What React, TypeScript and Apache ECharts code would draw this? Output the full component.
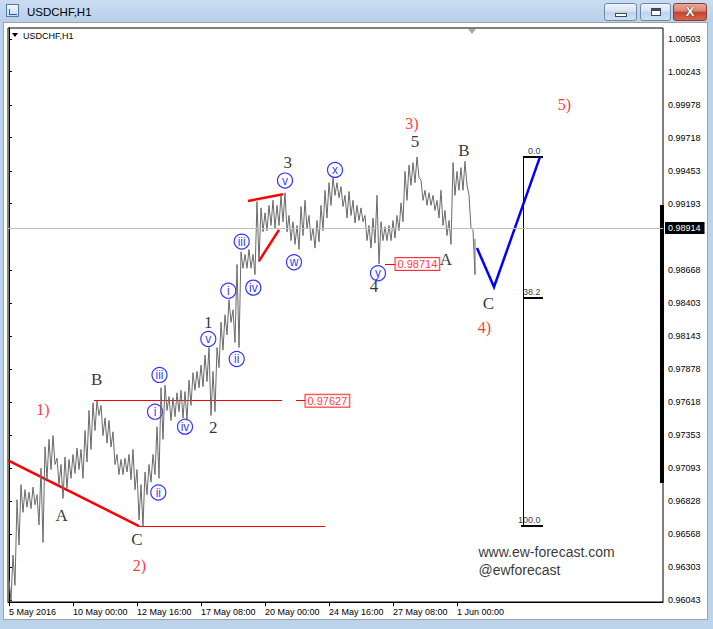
import React, { useEffect, useRef } from "react";
import * as echarts from "echarts";

const SANS = "'Liberation Sans', Arial, sans-serif";
const SERIF = "'Liberation Serif', 'Times New Roman', serif";

const symbolName = "USDCHF,H1";

// Time axis: H1 bar index, bar 0 = 5 May 2016 08:00 (weekend hours are skipped)
const timeTickBars = [0, 64, 128, 192, 256, 320, 384, 448];
const timeTickLabels = [
  "5 May 2016",
  "10 May 00:00",
  "12 May 16:00",
  "17 May 08:00",
  "20 May 00:00",
  "24 May 16:00",
  "27 May 08:00",
  "1 Jun 00:00",
];
const firstBar = -1;
const lastVisibleBar = 654;

// Price scale
const priceMin = 0.96027;
const priceMax = 1.0059;
const priceTicks = [
  1.00503, 1.00243, 0.99978, 0.99718, 0.99453, 0.99193, 0.98668, 0.98403, 0.98143,
  0.97878, 0.97618, 0.97353, 0.97093, 0.96828, 0.96568, 0.96303, 0.96043,
];

// Key levels of the count
const lastClose = 0.98914;
const wave1High = 0.97627;
const wave2Low = 0.96631;
const wave3High = 0.99565;
const wave4Low = 0.98714;

// High / low of each block of four H1 bars (block k starts at bar 4k)
const blockHigh = [
  0.962, 0.964, 0.9684, 0.9696, 0.9692, 0.969, 0.9694, 0.9688, 0.9709, 0.9726,
  0.9732, 0.9735, 0.9717, 0.9712, 0.9718, 0.9716, 0.972, 0.9725, 0.9724, 0.9739,
  0.9755, 0.9761, wave1High, 0.9759, 0.9749, 0.9747, 0.9738, 0.972, 0.9716, 0.9717,
  0.972, 0.9724, 0.9708, 0.9696, 0.9706, 0.9712, 0.972, 0.9742, 0.9773, 0.9775,
  0.9766, 0.9765, 0.9769, 0.9771, 0.977, 0.9779, 0.9785, 0.9786, 0.9791, 0.9799,
  0.9805, 0.9786, 0.9805, 0.9825, 0.9831, 0.9843, 0.9835, 0.9871, 0.9881, 0.9879,
  0.9883, 0.9879, 0.9921, 0.9916, 0.9912, 0.9918, 0.9922, 0.9918, 0.9926, 0.9928,
  0.991, 0.9905, 0.9902, 0.9917, 0.9922, 0.991, 0.99, 0.9906, 0.9918, 0.993,
  0.9936, 0.994, 0.9936, 0.9933, 0.9926, 0.9929, 0.9922, 0.9918, 0.9916, 0.991,
  0.9902, 0.9908, 0.9926, 0.9905, 0.9901, 0.9902, 0.9906, 0.991, 0.992, 0.9945,
  0.995, 0.9952, wave3High, 0.9938, 0.993, 0.9928, 0.9926, 0.9922, 0.993, 0.9914,
  0.9906, 0.9952, 0.9945, 0.9948, 0.9953, 0.9926, 0.9898,
];
const blockLow = [
  0.9604, 0.9616, 0.9648, 0.9674, 0.9678, 0.9677, 0.968, 0.9664, 0.965, 0.97,
  0.9708, 0.9712, 0.9696, 0.9685, 0.9693, 0.9701, 0.9705, 0.9708, 0.9701, 0.9714,
  0.9724, 0.9739, 0.9751, 0.9735, 0.9729, 0.9726, 0.9712, 0.9704, 0.9704, 0.9706,
  0.97, 0.9692, 0.9668, wave2Low, 0.9688, 0.9698, 0.9704, 0.9701, 0.9732, 0.9755,
  0.9747, 0.975, 0.9754, 0.9749, 0.9747, 0.9759, 0.9771, 0.9773, 0.9774, 0.9778,
  0.9751, 0.9754, 0.9789, 0.9803, 0.9815, 0.9825, 0.9809, 0.9805, 0.9868, 0.9868,
  0.9868, 0.9863, 0.9873, 0.9897, 0.9898, 0.9902, 0.99, 0.9902, 0.9905, 0.9897,
  0.989, 0.9887, 0.9883, 0.9894, 0.99, 0.989, 0.9884, 0.9889, 0.9898, 0.9908,
  0.9918, 0.9926, 0.9924, 0.9917, 0.9908, 0.991, 0.9904, 0.9906, 0.9905, 0.989,
  0.9884, 0.9888, wave4Low, 0.989, 0.989, 0.989, 0.9892, 0.9898, 0.9905, 0.9922,
  0.9934, 0.9936, 0.994, 0.9922, 0.9918, 0.9918, 0.9914, 0.9908, 0.9902, 0.9894,
  0.9887, 0.9926, 0.993, 0.993, 0.9934, 0.99, 0.9863,
];
const lastBar = 466;

// Drawn objects, as [bar, price]
const trendLine = [[-1, 0.97152], [130, wave2Low]];
const wedgeUpper = [[239, 0.99215], [274, 0.99268]];
const wedgeLower = [[250, 0.98738], [270, 0.98985]];
const wave2LevelLine = [[130, wave2Low], [316, wave2Low]];
const wave1LevelLine = [[85, wave1High], [273, wave1High]];
const wave1TagStub = [[287, wave1High], [296, wave1High]];
const wave4TagStub = [[376, wave4Low], [386, wave4Low]];
const projection = [[468, 0.98841], [485, 0.98531], [531, wave3High]];
const sideBar = [[653, 0.99183], [653, 0.96973]];

// Fibonacci retracement of wave 3) (wave 2) low -> wave 3) high)
const fibRatios = [0, 38.2, 100];
const fibBar = 514;
const fibEndBar = 533;

// Wave labels: [text, bar, price]
const primaryLabels: [string, number, number][] = [
  ["A", 52.7, 0.96711],
  ["B", 87.7, 0.97792],
  ["C", 128, 0.9652],
  ["1", 199.3, 0.98248],
  ["2", 204.3, 0.97416],
  ["3", 278.7, 0.9952],
  ["4", 365, 0.98535],
  ["5", 406, 0.99686],
  ["A", 437, 0.98746],
  ["B", 455, 0.99615],
  ["C", 479.3, 0.98402],
];
const intermediateLabels: [string, number, number][] = [
  ["1)", 34, 0.97554],
  ["2)", 130.5, 0.96321],
  ["3)", 403, 0.99827],
  ["4)", 475.5, 0.98208],
  ["5)", 555.5, 0.99978],
];
const minuteLabels: [string, number, number][] = [
  ["i", 146, 0.9754],
  ["ii", 149.3, 0.96897],
  ["iii", 150.5, 0.97832],
  ["iv", 176, 0.97421],
  ["v", 199.3, 0.98118],
  ["i", 219.3, 0.98502],
  ["ii", 227.7, 0.97959],
  ["iii", 232.7, 0.98892],
  ["iv", 244.3, 0.98526],
  ["v", 276, 0.99377],
  ["w", 285, 0.98728],
  ["x", 326, 0.99462],
  ["y", 369, 0.9864],
];
const siteLines: [string, number, number][] = [
  ["www.ew-forecast.com", 469, 0.96425],
  ["@ewforecast", 469, 0.96282],
];

const RED = "#ff0000";
const BLUE = "#0000ff";

function buildOption() {
  // Each 4-hour block is drawn as a stroke from its high down to its low.
  const pricePath: number[][] = [];
  blockHigh.forEach((h, k) => {
    pricePath.push([k * 4, h]);
    pricePath.push([k * 4 + 2, blockLow[k]]);
  });
  pricePath.push([lastBar, lastClose]);

  const fibLevels = fibRatios.map((r) => ({
    ratio: r,
    price: wave3High - (r / 100) * (wave3High - wave2Low),
  }));

  const hidden = { color: "rgba(0,0,0,0)" };
  const textSeries = (
    items: [string, number, number][],
    label: Record<string, unknown>
  ) => ({
    type: "scatter",
    silent: true,
    symbolSize: 1,
    itemStyle: hidden,
    data: items.map(([t, x, y]) => ({ name: t, value: [x, y] })),
    label: { show: true, position: "inside", formatter: "{b}", ...label },
  });

  return {
    animation: false,
    backgroundColor: "transparent",
    title: {
      text: symbolName,
      left: 23,
      top: 31,
      padding: 0,
      textStyle: { fontSize: 9, fontWeight: "normal", fontFamily: SANS, color: "#000" },
    },
    grid: {
      left: 8,
      top: 28,
      right: 50,
      bottom: 27,
      show: true,
      borderColor: "#000",
      borderWidth: 1,
    },
    xAxis: {
      type: "value",
      min: firstBar,
      max: lastVisibleBar,
      splitLine: { show: false },
      axisLine: { show: true, lineStyle: { color: "#000", width: 1 } },
      axisTick: { show: true, customValues: timeTickBars, length: 4, lineStyle: { color: "#000" } },
      axisLabel: {
        customValues: timeTickBars,
        formatter: (v: number) => timeTickLabels[timeTickBars.indexOf(v)] ?? "",
        align: "left",
        margin: 5,
        fontSize: 9,
        fontFamily: SANS,
        color: "#000",
      },
    },
    yAxis: {
      type: "value",
      position: "right",
      min: priceMin,
      max: priceMax,
      splitLine: { show: false },
      axisLine: { show: true, lineStyle: { color: "#000", width: 1 } },
      axisTick: { show: true, customValues: priceTicks, length: 3, lineStyle: { color: "#000" } },
      axisLabel: {
        customValues: priceTicks,
        formatter: (v: number) => v.toFixed(5),
        margin: 5,
        fontSize: 9,
        fontFamily: SANS,
        color: "#000",
      },
    },
    series: [
      {
        type: "line",
        name: symbolName,
        data: pricePath,
        showSymbol: false,
        silent: true,
        lineStyle: { color: "#6a6a6a", width: 1 },
        markLine: {
          silent: true,
          symbol: "none",
          data: [{ yAxis: lastClose }],
          lineStyle: { color: "#c0c0c0", type: "solid", width: 1 },
          label: {
            position: "end",
            distance: 2,
            formatter: () => lastClose.toFixed(5),
            backgroundColor: "#000",
            color: "#fff",
            fontSize: 9,
            fontFamily: SANS,
            padding: [2, 4, 1, 3],
          },
        },
      },
      {
        type: "lines",
        coordinateSystem: "cartesian2d",
        silent: true,
        lineStyle: { color: RED, width: 1, opacity: 1 },
        data: [wave2LevelLine, wave1LevelLine, wave1TagStub, wave4TagStub].map((c) => ({ coords: c })),
      },
      {
        type: "lines",
        coordinateSystem: "cartesian2d",
        silent: true,
        lineStyle: { color: RED, width: 2.5, opacity: 1 },
        data: [trendLine, wedgeUpper, wedgeLower].map((c) => ({ coords: c })),
      },
      {
        type: "lines",
        coordinateSystem: "cartesian2d",
        silent: true,
        lineStyle: { color: "#000", width: 1, opacity: 1 },
        data: [{ coords: [[fibBar, wave3High], [fibBar, wave2Low]] }],
      },
      {
        type: "lines",
        coordinateSystem: "cartesian2d",
        silent: true,
        lineStyle: { color: "#000", width: 2, opacity: 1 },
        data: fibLevels.map((l) => ({
          coords: [[l.ratio === 100 ? fibBar - 2 : fibBar, l.price], [fibEndBar + 1, l.price]],
        })),
      },
      {
        type: "lines",
        coordinateSystem: "cartesian2d",
        silent: true,
        lineStyle: { color: "#000", width: 4, opacity: 1 },
        data: [{ coords: sideBar }],
      },
      {
        type: "lines",
        coordinateSystem: "cartesian2d",
        polyline: true,
        silent: true,
        symbol: ["none", "arrow"],
        symbolSize: 10,
        lineStyle: { color: BLUE, width: 2.5, opacity: 1 },
        data: [{ coords: projection }],
      },
      {
        type: "scatter",
        silent: true,
        symbolSize: 1,
        itemStyle: hidden,
        data: [
          { value: [296, wave1High] },
          { value: [386, wave4Low] },
        ],
        label: {
          show: true,
          position: "right",
          distance: 0,
          formatter: (p: { value: number[] }) => p.value[1].toFixed(5),
          color: RED,
          fontSize: 11,
          fontFamily: SANS,
          borderColor: RED,
          borderWidth: 1,
          backgroundColor: "#fff",
          padding: [1, 2, 0, 2],
        },
      },
      {
        type: "scatter",
        silent: true,
        symbolSize: 1,
        itemStyle: hidden,
        data: fibLevels.map((l) => ({ name: l.ratio.toFixed(1), value: [fibEndBar, l.price] })),
        label: {
          show: true,
          position: "insideBottomRight",
          distance: 2,
          formatter: "{b}",
          color: "#000",
          fontSize: 9,
          fontFamily: SANS,
        },
      },
      {
        type: "scatter",
        silent: true,
        symbol: "circle",
        symbolSize: 15,
        itemStyle: { color: "#fff", borderColor: BLUE, borderWidth: 1.2 },
        data: minuteLabels.map(([t, x, y]) => ({ name: t, value: [x, y] })),
        label: {
          show: true,
          position: "inside",
          formatter: "{b}",
          color: BLUE,
          fontSize: 12,
          lineHeight: 11,
          fontFamily: SANS,
        },
      },
      textSeries(primaryLabels, { color: "#000", fontSize: 17, fontFamily: SERIF, lineHeight: 12 }),
      textSeries(intermediateLabels, { color: RED, fontSize: 16, fontFamily: SERIF }),
      textSeries(siteLines, {
        position: "right",
        distance: 0,
        color: "#000",
        fontSize: 14,
        fontFamily: SANS,
      }),
    ],
  };
}

const btnBase: React.CSSProperties = {
  position: "absolute",
  top: 3,
  height: 18,
  boxSizing: "border-box",
  borderRadius: 3,
};

export default function App() {
  const ref = useRef<HTMLDivElement>(null);

  useEffect(() => {
    if (!ref.current) return;
    const chart = echarts.init(ref.current, null, { renderer: "svg" });
    chart.setOption(buildOption() as echarts.EChartsOption);
    return () => chart.dispose();
  }, []);

  return (
    <div
      style={{
        position: "fixed",
        left: 0,
        top: 0,
        width: 713,
        height: 629,
        overflow: "hidden",
        background: "#bcd3ec",
        fontFamily: SANS,
      }}
    >
      {/* title bar */}
      <div
        style={{
          position: "absolute",
          left: 0,
          top: 0,
          width: 713,
          height: 22,
          background: "linear-gradient(#cadcf1, #b9d0ea)",
        }}
      />
      <div
        style={{
          position: "absolute",
          left: 6,
          top: 4,
          width: 13,
          height: 13,
          boxSizing: "border-box",
          border: "1px solid #4f78ad",
          background: "linear-gradient(#f4f8fd, #c9dbf0)",
        }}
      >
        <div
          style={{
            position: "absolute",
            left: 2,
            top: 4,
            width: 7,
            height: 5,
            borderLeft: "1px solid #2d5fa6",
            borderBottom: "1px solid #2d5fa6",
          }}
        />
      </div>
      <div
        style={{
          position: "absolute",
          left: 27,
          top: 5,
          fontSize: 11.5,
          lineHeight: "14px",
          color: "#000",
          whiteSpace: "nowrap",
        }}
      >
        {symbolName}
      </div>
      {/* window buttons */}
      <div
        style={{
          ...btnBase,
          left: 604,
          width: 33,
          border: "1px solid #6f88ad",
          background: "linear-gradient(#eef4fb 0%, #d7e4f3 45%, #bfd2ea 50%, #cfe0f2 100%)",
        }}
      >
        <div
          style={{
            position: "absolute",
            left: 10,
            top: 9,
            width: 12,
            height: 4,
            boxSizing: "border-box",
            background: "#fff",
            border: "1px solid #3b4a60",
          }}
        />
      </div>
      <div
        style={{
          ...btnBase,
          left: 640,
          width: 31,
          border: "1px solid #6f88ad",
          background: "linear-gradient(#eef4fb 0%, #d7e4f3 45%, #bfd2ea 50%, #cfe0f2 100%)",
        }}
      >
        <div
          style={{
            position: "absolute",
            left: 10,
            top: 4,
            width: 10,
            height: 8,
            boxSizing: "border-box",
            background: "#fff",
            border: "1px solid #3b4a60",
            borderTop: "3px solid #3b4a60",
          }}
        />
      </div>
      <div
        style={{
          ...btnBase,
          left: 673,
          width: 34,
          border: "1px solid #8a3a2e",
          background: "linear-gradient(#eba898 0%, #d98571 45%, #c4432f 50%, #d6674f 100%)",
        }}
      >
        <div
          style={{
            position: "absolute",
            left: 0,
            top: 0,
            width: 32,
            height: 16,
            textAlign: "center",
            fontSize: 13,
            lineHeight: "16px",
            fontWeight: "bold",
            color: "#fff",
            textShadow: "0 0 1px #3a1a14, 0 0 1px #3a1a14",
          }}
        >
          X
        </div>
      </div>
      {/* chart panel */}
      <div
        style={{
          position: "absolute",
          left: 3,
          top: 22,
          width: 705,
          height: 598,
          boxSizing: "border-box",
          background: "#fff",
          border: "1px solid #a3a3a3",
        }}
      />
      {/* chart-window markers */}
      <div
        style={{
          position: "absolute",
          left: 12,
          top: 33,
          width: 0,
          height: 0,
          borderLeft: "3px solid transparent",
          borderRight: "3px solid transparent",
          borderTop: "4px solid #000",
        }}
      />
      <div
        style={{
          position: "absolute",
          left: 468,
          top: 29,
          width: 0,
          height: 0,
          borderLeft: "4.5px solid transparent",
          borderRight: "4.5px solid transparent",
          borderTop: "5px solid #a8a8a8",
        }}
      />
      <div ref={ref} style={{ position: "absolute", left: 0, top: 0, width: 713, height: 629 }} />
    </div>
  );
}
